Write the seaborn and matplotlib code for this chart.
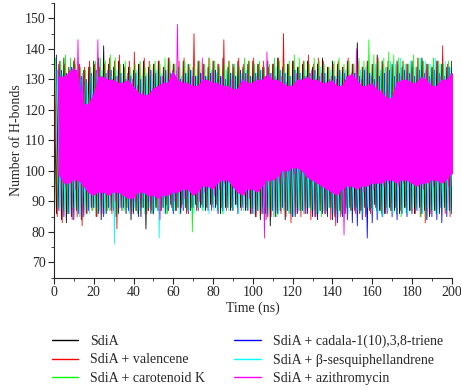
import numpy as np
import matplotlib
matplotlib.use("Agg")
import matplotlib.pyplot as plt
import seaborn as sns
from matplotlib.ticker import MultipleLocator

# ── Data (upper / lower excursions read every 2.5 ns) ─────────────────────
TIME = np.arange(0, 200.1, 2.5)

LABELS = ["SdiA", "SdiA + valencene", "SdiA + carotenoid K",
          "SdiA + cadala-1(10),3,8-triene", "SdiA + β-sesquiphellandrene",
          "SdiA + azithromycin"]
COLORS = ["#000000", "#ff0000", "#00ff00", "#0000ff", "#00ffff", "#ff00ff"]

sdia_hi = [136, 135, 137, 134, 136, 135, 133, 134, 136, 137,
           141, 135, 134, 136, 135, 134, 133, 135, 136, 134,
           135, 136, 134, 137, 135, 134, 136, 135, 134, 136,
           135, 134, 136, 135, 137, 134, 135, 136, 134, 135,
           136, 135, 134, 136, 135, 137, 134, 135, 136, 134,
           135, 136, 134, 135, 137, 134, 136, 135, 134, 136,
           135, 142, 134, 136, 135, 138, 136, 134, 135, 136,
           134, 135, 136, 134, 137, 135, 134, 136, 135, 134, 136]
sdia_lo = [86, 84, 83, 85, 87, 84, 86, 88, 85, 84,
           86, 87, 85, 88, 86, 84, 87, 85, 81, 86,
           88, 87, 86, 89, 87, 86, 88, 87, 89, 88,
           87, 89, 88, 86, 88, 87, 89, 88, 87, 86,
           85, 84, 86, 82, 85, 87, 84, 86, 85, 87,
           86, 88, 85, 87, 86, 88, 85, 87, 86, 88,
           87, 86, 88, 87, 89, 87, 86, 88, 87, 86,
           88, 87, 86, 88, 87, 85, 87, 86, 88, 87, 86]

val_hi = [134, 136, 135, 133, 137, 135, 134, 136, 135, 134,
          135, 137, 136, 138, 134, 136, 139, 135, 137, 136,
          135, 136, 134, 137, 135, 136, 137, 134, 145, 136,
          135, 137, 136, 135, 143, 136, 134, 137, 135, 136,
          137, 135, 136, 134, 135, 137, 145, 135, 136, 134,
          136, 138, 135, 137, 136, 134, 135, 136, 134, 137,
          135, 136, 134, 136, 135, 137, 135, 136, 134, 135,
          136, 135, 134, 137, 136, 135, 134, 136, 141, 135, 137]
val_lo = [85, 83, 86, 84, 85, 82, 86, 87, 85, 86,
          87, 86, 81, 87, 88, 86, 87, 88, 86, 87,
          88, 87, 89, 88, 87, 88, 86, 88, 87, 89,
          88, 87, 89, 88, 87, 88, 89, 87, 88, 86,
          85, 86, 84, 85, 87, 86, 85, 83, 86, 85,
          86, 84, 85, 87, 86, 84, 82, 85, 86, 87,
          86, 87, 85, 86, 88, 87, 86, 87, 88, 87,
          88, 87, 86, 85, 83, 86, 87, 88, 86, 85, 87]

car_hi = [137, 136, 138, 137, 135, 134, 133, 134, 136, 137,
          136, 138, 137, 135, 136, 134, 135, 136, 134, 135,
          136, 135, 137, 136, 135, 134, 136, 135, 134, 136,
          135, 137, 136, 134, 135, 136, 135, 134, 137, 136,
          135, 136, 134, 135, 137, 136, 135, 136, 138, 137,
          136, 135, 137, 136, 135, 134, 136, 137, 135, 136,
          135, 137, 136, 143, 138, 136, 137, 139, 138, 137,
          136, 135, 138, 137, 136, 135, 137, 136, 135, 136, 135]
car_lo = [88, 87, 86, 88, 87, 89, 88, 87, 86, 88,
          87, 88, 86, 87, 88, 87, 86, 88, 87, 86,
          87, 88, 86, 87, 88, 89, 87, 80, 88, 87,
          88, 89, 87, 86, 88, 87, 88, 89, 87, 88,
          87, 88, 86, 87, 85, 88, 87, 86, 88, 87,
          88, 87, 86, 85, 87, 88, 87, 86, 88, 87,
          88, 87, 86, 88, 87, 86, 88, 87, 86, 85,
          86, 87, 88, 85, 84, 87, 86, 88, 87, 86, 88]

cad_hi = [138, 133, 132, 134, 133, 131, 130, 132, 133, 131,
          132, 133, 131, 132, 130, 131, 132, 130, 131, 133,
          132, 131, 133, 132, 131, 130, 132, 133, 131, 132,
          131, 132, 133, 131, 130, 132, 131, 133, 132, 131,
          132, 133, 131, 132, 131, 133, 132, 131, 133, 132,
          131, 132, 133, 131, 132, 130, 131, 133, 132, 131,
          132, 131, 133, 132, 130, 131, 132, 133, 131, 132,
          133, 132, 131, 133, 132, 131, 133, 132, 131, 134, 133]
cad_lo = [87, 85, 86, 84, 86, 85, 87, 88, 86, 85,
          88, 87, 86, 88, 87, 86, 85, 88, 87, 86,
          87, 88, 87, 86, 88, 87, 86, 88, 87, 88,
          87, 88, 86, 87, 88, 87, 86, 88, 87, 86,
          87, 86, 85, 87, 86, 88, 87, 85, 86, 87,
          86, 85, 84, 86, 85, 84, 83, 85, 84, 83,
          82, 84, 78, 83, 84, 85, 86, 85, 84, 86,
          85, 86, 87, 86, 84, 85, 84, 83, 85, 86, 87]

ses_hi = [133, 132, 131, 133, 132, 130, 129, 131, 132, 133,
          132, 131, 133, 132, 131, 132, 133, 131, 132, 131,
          133, 132, 131, 132, 133, 131, 132, 133, 131, 132,
          131, 133, 132, 131, 133, 132, 131, 132, 133, 131,
          132, 133, 131, 132, 134, 133, 132, 131, 133, 132,
          133, 131, 132, 134, 132, 133, 131, 132, 133, 131,
          132, 133, 134, 132, 135, 133, 134, 136, 135, 137,
          135, 136, 134, 137, 136, 135, 137, 135, 136, 134, 138]
ses_lo = [88, 87, 86, 88, 85, 87, 86, 88, 87, 86,
          87, 76, 88, 87, 86, 88, 87, 86, 88, 87,
          78, 86, 88, 87, 86, 88, 87, 86, 88, 87,
          86, 87, 88, 86, 87, 88, 86, 87, 88, 86,
          87, 86, 88, 85, 86, 87, 86, 85, 87, 86,
          88, 87, 86, 87, 88, 86, 85, 87, 86, 88,
          87, 86, 88, 87, 86, 85, 87, 86, 88, 87,
          86, 88, 87, 86, 88, 87, 86, 88, 87, 86, 87]

azi_hi = [133, 131, 132, 134, 143, 132, 122, 125, 143, 131,
          133, 130, 131, 129, 132, 130, 128, 126, 125, 127,
          128, 131, 129, 133, 148, 130, 129, 131, 128, 137,
          130, 132, 129, 131, 128, 130, 127, 130, 132, 129,
          131, 130, 139, 132, 130, 131, 129, 128, 132, 130,
          131, 133, 130, 132, 129, 131, 130, 128, 131, 132,
          140, 130, 128, 131, 129, 127, 126, 124, 129, 131,
          130, 132, 129, 131, 133, 130, 128, 131, 130, 132, 140]
azi_lo = [99, 95, 96, 94, 97, 95, 93, 92, 91, 93,
          92, 90, 93, 92, 91, 90, 91, 93, 90, 92,
          84, 91, 92, 90, 93, 91, 94, 92, 90, 93,
          95, 92, 94, 96, 97, 95, 93, 92, 91, 94,
          93, 78, 95, 97, 96, 98, 100, 99, 101, 100,
          98, 97, 96, 95, 94, 93, 92, 79, 94, 95,
          94, 93, 95, 94, 96, 95, 96, 97, 95, 96,
          97, 96, 95, 94, 96, 95, 97, 96, 95, 97, 99]

SERIES = [(sdia_hi, sdia_lo), (val_hi, val_lo), (car_hi, car_lo),
          (cad_hi, cad_lo), (ses_hi, ses_lo), (azi_hi, azi_lo)]

# ── Style ─────────────────────────────────────────────────────────────────
sns.set_theme(style="ticks")
plt.rcParams.update({
    "font.family": ["Liberation Serif", "DejaVu Serif"],
    "font.size": 10,
    "axes.linewidth": 0.8,
    "xtick.direction": "out",
    "ytick.direction": "out",
})

fig = plt.figure(figsize=(4.61, 3.90), dpi=100)
ax = fig.add_axes([0.117, 0.288, 0.863, 0.704])

step = TIME[1] - TIME[0]
for k, ((hi, lo), color, label) in enumerate(zip(SERIES, COLORS, LABELS)):
    shift = k * step / 6
    xs = np.empty(2 * len(TIME))
    ys = np.empty(2 * len(TIME))
    xs[0::2] = TIME + shift
    xs[1::2] = TIME + shift + step / 2
    ys[0::2] = hi
    ys[1::2] = lo
    z = 2 + k * 0.1
    if label == LABELS[-1]:
        # solid core of the azithromycin trace (no isolated spikes),
        # drawn over the other traces
        core_hi = np.minimum(hi, np.roll(hi, -1))
        core_lo = np.maximum(lo, np.roll(lo, -1))
        ax.fill_between(TIME + shift, core_lo, core_hi, color=color, lw=0,
                        zorder=z)
    sns.lineplot(x=xs, y=ys, ax=ax, sort=False, estimator=None,
                 color=color, lw=0.6, legend=False, zorder=z + 0.05)

ax.set_xlim(0, 200)
ax.set_ylim(65, 155)
ax.xaxis.set_major_locator(MultipleLocator(20))
ax.xaxis.set_minor_locator(MultipleLocator(10))
ax.yaxis.set_major_locator(MultipleLocator(10))
ax.yaxis.set_minor_locator(MultipleLocator(5))
ax.set_yticks(np.arange(70, 151, 10))
ax.tick_params(which="major", length=4, width=0.8, labelsize=10, pad=2)
ax.tick_params(which="minor", length=2, width=0.6)
sns.despine(ax=ax)
ax.set_xlabel("Time (ns)", fontsize=10, labelpad=2)
ax.set_ylabel("Number of H-bonds", fontsize=10, labelpad=1)

handles = [plt.Line2D([], [], color=c, lw=1) for c in COLORS]
fig.legend(handles, LABELS, ncol=2, loc="upper left",
           bbox_to_anchor=(52 / 461, 1 - 335 / 390), frameon=False,
           fontsize=10, borderpad=0, borderaxespad=0,
           handlelength=1.9, columnspacing=2.1, labelspacing=0.37,
           handletextpad=0.85)

fig.savefig("out.png", dpi=100)
